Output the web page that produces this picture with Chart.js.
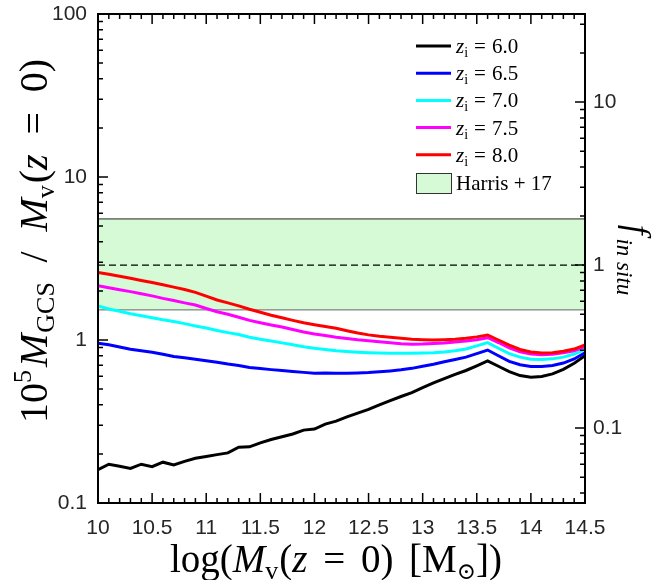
<!DOCTYPE html>
<html>
<head>
<meta charset="utf-8">
<script src="https://cdn.jsdelivr.net/npm/chart.js@4.4.1/dist/chart.umd.min.js"></script>
<style>
  html, body { margin: 0; padding: 0; background: #fff; }
  #wrap { width: 660px; height: 580px; }
</style>
</head>
<body>
<div id="wrap"><canvas id="gcs" width="660" height="580"></canvas></div>
<script>
// log(Mv(z=0)) grid
const logMv = [10.0, 10.1, 10.2, 10.3, 10.4, 10.5, 10.6, 10.7, 10.8, 10.9,
               11.0, 11.1, 11.2, 11.3, 11.4, 11.5, 11.6, 11.7, 11.8, 11.9,
               12.0, 12.1, 12.2, 12.3, 12.4, 12.5, 12.6, 12.7, 12.8, 12.9,
               13.0, 13.1, 13.2, 13.3, 13.4, 13.5, 13.6, 13.7, 13.8, 13.9,
               14.0, 14.1, 14.2, 14.3, 14.4, 14.5];

// 1e5 Mgcs / Mv, one series per z_i
const gcsZi60 = [0.160, 0.173, 0.168, 0.163, 0.173, 0.167, 0.178, 0.171, 0.180, 0.188,
                 0.193, 0.198, 0.203, 0.220, 0.221, 0.234, 0.245, 0.255, 0.265, 0.280,
                 0.284, 0.305, 0.318, 0.338, 0.356, 0.375, 0.400, 0.425, 0.450, 0.475,
                 0.510, 0.545, 0.580, 0.615, 0.650, 0.695, 0.745, 0.690, 0.640, 0.605,
                 0.590, 0.597, 0.620, 0.660, 0.720, 0.800];
const gcsZi65 = [0.955, 0.935, 0.905, 0.878, 0.858, 0.840, 0.818, 0.793, 0.778, 0.762,
                 0.745, 0.730, 0.712, 0.698, 0.678, 0.668, 0.658, 0.650, 0.641, 0.633,
                 0.625, 0.628, 0.625, 0.626, 0.628, 0.631, 0.638, 0.646, 0.656, 0.670,
                 0.690, 0.710, 0.735, 0.760, 0.785, 0.825, 0.868, 0.800, 0.740, 0.705,
                 0.688, 0.688, 0.698, 0.722, 0.765, 0.836];
const gcsZi70 = [1.62, 1.55, 1.50, 1.45, 1.41, 1.37, 1.33, 1.30, 1.26, 1.22,
                 1.185, 1.145, 1.11, 1.08, 1.04, 1.01, 0.985, 0.96, 0.935, 0.91,
                 0.89, 0.875, 0.86, 0.85, 0.842, 0.836, 0.832, 0.829, 0.829, 0.829,
                 0.832, 0.836, 0.845, 0.86, 0.88, 0.92, 0.963, 0.89, 0.825, 0.785,
                 0.762, 0.760, 0.766, 0.785, 0.82, 0.877];
const gcsZi75 = [2.15, 2.09, 2.035, 1.98, 1.92, 1.865, 1.80, 1.745, 1.69, 1.64,
                 1.56, 1.49, 1.44, 1.38, 1.32, 1.275, 1.235, 1.20, 1.16, 1.12,
                 1.09, 1.065, 1.04, 1.02, 1.003, 0.99, 0.975, 0.962, 0.95, 0.943,
                 0.945, 0.952, 0.96, 0.972, 0.985, 1.005, 1.033, 0.965, 0.895, 0.845,
                 0.82, 0.812, 0.818, 0.835, 0.86, 0.91];
const gcsZi80 = [2.60, 2.53, 2.46, 2.39, 2.32, 2.25, 2.18, 2.11, 2.04, 1.96,
                 1.86, 1.76, 1.69, 1.62, 1.545, 1.48, 1.42, 1.37, 1.32, 1.275,
                 1.24, 1.21, 1.18, 1.14, 1.105, 1.075, 1.055, 1.04, 1.025, 1.012,
                 1.005, 1.0, 1.005, 1.012, 1.025, 1.045, 1.073, 1.00, 0.93, 0.875,
                 0.845, 0.832, 0.836, 0.852, 0.88, 0.932];

const ziLabels = ['6.0', '6.5', '7.0', '7.5', '8.0'];
const ziColors = ['#000000', '#0000ff', '#00ffff', '#ff00ff', '#ff0000'];

// Harris+17 band (low / mean / high)
const harrisX = [10, 14.5];
const harrisLow = [1.53, 1.53];
const harrisMid = [2.88, 2.88];
const harrisHigh = [5.53, 5.53];
const harrisFill = '#d6f9d6';

// f_in situ = 1 where the mean Harris value sits
const fNorm = 2.88;

const xTicks = [10, 10.5, 11, 11.5, 12, 12.5, 13, 13.5, 14, 14.5];
const xTickLabels = ['10', '10.5', '11', '11.5', '12', '12.5', '13', '13.5', '14', '14.5'];
const yTicks = [0.1, 1, 10, 100];
const yTickLabels = ['0.1', '1', '10', '100'];
const fTicks = [0.1, 1, 10];
const fTickLabels = ['0.1', '1', '10'];

const tickFont = { family: '"Liberation Sans", Arial, sans-serif', size: 21 };
const serif = '"Liberation Serif", "DejaVu Serif", serif';

function pairs(xs, ys) { return xs.map((x, i) => ({ x: x, y: ys[i] })); }

function findTick(vals, v) {
  return vals.findIndex(t => Math.abs(t - v) < Math.abs(t) * 1e-6 + 1e-9);
}

function logAll(min, max) {
  const out = [];
  for (let e = -3; e <= 3; e++) {
    for (let k = 1; k <= 9; k++) {
      const v = +(k * Math.pow(10, e)).toPrecision(6);
      if (v >= min * 0.9999 && v <= max * 1.0001) out.push(v);
    }
  }
  return out;
}

function linAll(min, max, step) {
  const out = [];
  const n = Math.round((max - min) / step);
  for (let i = 0; i <= n; i++) out.push(+(min + i * step).toFixed(2));
  return out;
}

// text pieces with sub/superscripts, centred on (x, y); extra room to reach
// `target` width goes after the pieces flagged with s
function richText(ctx, parts, x, y, angle, target) {
  ctx.save();
  let w = 0, n = 0;
  parts.forEach(p => {
    ctx.font = p.f;
    p.w = ctx.measureText(p.t).width;
    w += p.w + (p.gap || 0);
    if (p.s) n++;
  });
  const sp = target && n ? Math.max(0, (target - w) / n) : 0;
  ctx.translate(x, y);
  ctx.rotate(angle);
  ctx.fillStyle = '#000';
  ctx.textBaseline = 'alphabetic';
  ctx.textAlign = 'left';
  let cx = -(w + sp * n) / 2;
  parts.forEach(p => {
    ctx.font = p.f;
    ctx.fillText(p.t, cx, p.dy || 0);
    cx += p.w + (p.gap || 0) + (p.s ? sp : 0);
  });
  ctx.restore();
}

const rm = s => s + 'px ' + serif;
const it = s => 'italic ' + s + 'px ' + serif;

const frameTicks = {
  id: 'frameTicks',
  afterDatasetsDraw(chart) {
    const { ctx, chartArea: a, scales } = chart;
    ctx.save();
    ctx.strokeStyle = '#000';
    ctx.lineWidth = 1.5;
    ctx.beginPath();
    scales.x.ticks.forEach(t => {
      const p = scales.x.getPixelForValue(t.value);
      const len = findTick(xTicks, t.value) >= 0 ? 10 : 5;
      ctx.moveTo(p, a.bottom); ctx.lineTo(p, a.bottom - len);
      ctx.moveTo(p, a.top); ctx.lineTo(p, a.top + len);
    });
    scales.y.ticks.forEach(t => {
      const p = scales.y.getPixelForValue(t.value);
      const len = findTick(yTicks, t.value) >= 0 ? 10 : 5;
      ctx.moveTo(a.left, p); ctx.lineTo(a.left + len, p);
    });
    scales.y2.ticks.forEach(t => {
      const p = scales.y2.getPixelForValue(t.value);
      const len = findTick(fTicks, t.value) >= 0 ? 10 : 5;
      ctx.moveTo(a.right, p); ctx.lineTo(a.right - len, p);
    });
    ctx.stroke();
    ctx.lineWidth = 2;
    ctx.strokeRect(a.left, a.top, a.right - a.left, a.bottom - a.top);
    ctx.restore();
  }
};

const labelsAndKey = {
  id: 'labelsAndKey',
  afterDraw(chart) {
    const { ctx, chartArea: a } = chart;

    // x title
    richText(ctx, [
      { t: 'log(', f: rm(39) },
      { t: 'M', f: it(39) },
      { t: 'v', f: rm(26), dy: 7, gap: 1 },
      { t: '(', f: rm(39) },
      { t: 'z', f: it(39), s: 1 },
      { t: '=', f: rm(39), s: 1 },
      { t: '0)', f: rm(39), s: 1 },
      { t: '[M', f: rm(39) },
      { t: '\u2299', f: rm(23), dy: 7 },
      { t: '])', f: rm(39) }
    ], 336, 572, 0, 332);

    // left y title
    richText(ctx, [
      { t: '10', f: rm(40) },
      { t: '5', f: rm(26), dy: -16, gap: 3 },
      { t: 'M', f: it(40), gap: 1 },
      { t: 'GCS', f: rm(26), dy: 7, s: 1 },
      { t: '/', f: rm(40), s: 1 },
      { t: 'M', f: it(40) },
      { t: 'v', f: rm(26), dy: 7, gap: 2 },
      { t: '(', f: rm(40) },
      { t: 'z', f: it(40), s: 1 },
      { t: '=', f: rm(40), s: 1 },
      { t: '0)', f: rm(40) }
    ], 47, 241, -Math.PI / 2, 364);

    // right y title
    richText(ctx, [
      { t: 'f', f: it(35), gap: 4 },
      { t: 'in situ', f: it(23), dy: 9 }
    ], 626, 260, Math.PI / 2);

    // key
    const lx = a.right - 169;
    ctx.save();
    chart.data.datasets.filter(d => d.key).forEach((d, i) => {
      const cy = a.top + 32 + i * 27.2;
      ctx.strokeStyle = d.borderColor;
      ctx.lineWidth = 3;
      ctx.beginPath();
      ctx.moveTo(lx, cy); ctx.lineTo(lx + 35, cy);
      ctx.stroke();
      ctx.fillStyle = '#000';
      ctx.textBaseline = 'alphabetic';
      ctx.font = it(21);
      ctx.fillText('z', lx + 40, cy + 7);
      let tx = lx + 40 + ctx.measureText('z').width;
      ctx.font = rm(14);
      ctx.fillText('i', tx, cy + 11);
      tx += ctx.measureText('i').width + 6;
      ctx.font = rm(21);
      ctx.fillText('=', tx, cy + 7);
      tx += ctx.measureText('=').width + 6;
      ctx.fillText(ziLabels[i], tx, cy + 7);
    });
    const by = a.top + 159;
    ctx.fillStyle = harrisFill;
    ctx.fillRect(lx, by, 35, 20);
    ctx.strokeStyle = '#333';
    ctx.lineWidth = 1;
    ctx.strokeRect(lx + 0.5, by + 0.5, 35, 20);
    ctx.fillStyle = '#000';
    ctx.font = rm(21);
    ctx.fillText('Harris + 17', lx + 40, by + 17);
    ctx.restore();
  }
};

const series = [gcsZi60, gcsZi65, gcsZi70, gcsZi75, gcsZi80];
const datasets = series.map((s, i) => ({
  label: 'z_i = ' + ziLabels[i],
  key: true,
  data: pairs(logMv, s),
  borderColor: ziColors[i],
  borderWidth: 3,
  pointRadius: 0,
  tension: 0,
  fill: false,
  order: 5 - i,
  yAxisID: 'y'
}));

datasets.push(
  { label: 'Harris+17 high', data: pairs(harrisX, harrisHigh), borderColor: '#222', borderWidth: 1,
    backgroundColor: harrisFill, fill: '+1', pointRadius: 0, order: 12, yAxisID: 'y' },
  { label: 'Harris+17 low', data: pairs(harrisX, harrisLow), borderColor: '#666', borderWidth: 1,
    pointRadius: 0, fill: false, order: 11, yAxisID: 'y' },
  { label: 'Harris+17 mean', data: pairs(harrisX, harrisMid), borderColor: '#000', borderWidth: 1.3,
    borderDash: [7, 4], pointRadius: 0, fill: false, order: 10, yAxisID: 'y' }
);

const tickStyle = { font: tickFont, color: '#262626', autoSkip: false, maxRotation: 0 };

// keep the plot box where the figure has it; labels may overhang
const fitBox = size => s => {
  if (s.isHorizontal()) { s.height = size; s.paddingLeft = 0; s.paddingRight = 0; }
  else { s.width = size; s.paddingTop = 0; s.paddingBottom = 0; }
};

new Chart(document.getElementById('gcs'), {
  type: 'line',
  data: { datasets: datasets },
  options: {
    responsive: false,
    animation: false,
    layout: { padding: { top: 14, left: 0, right: 0, bottom: 0 } },
    plugins: { legend: { display: false }, tooltip: { enabled: false } },
    scales: {
      x: {
        type: 'linear', min: 10, max: 14.5,
        afterBuildTicks: s => { s.ticks = linAll(10, 14.5, 0.1).map(v => ({ value: v })); },
        afterFit: fitBox(77),
        grid: { display: false, drawTicks: false },
        border: { display: false },
        ticks: Object.assign({}, tickStyle, { padding: 13,
          callback: v => { const i = findTick(xTicks, v); return i >= 0 ? xTickLabels[i] : ''; } })
      },
      y: {
        type: 'logarithmic', position: 'left', min: 0.1, max: 100,
        afterBuildTicks: s => { s.ticks = logAll(0.1, 100).map(v => ({ value: v })); },
        afterFit: fitBox(98),
        grid: { display: false, drawTicks: false },
        border: { display: false },
        ticks: Object.assign({}, tickStyle, { padding: 11,
          callback: v => { const i = findTick(yTicks, v); return i >= 0 ? yTickLabels[i] : ''; } })
      },
      y2: {
        type: 'logarithmic', position: 'right', min: 0.1 / fNorm, max: 100 / fNorm,
        afterBuildTicks: s => { s.ticks = logAll(0.1 / fNorm, 100 / fNorm).map(v => ({ value: v })); },
        afterFit: fitBox(75),
        grid: { display: false, drawTicks: false },
        border: { display: false },
        ticks: Object.assign({}, tickStyle, { padding: 8,
          callback: v => { const i = findTick(fTicks, v); return i >= 0 ? fTickLabels[i] : ''; } })
      }
    }
  },
  plugins: [frameTicks, labelsAndKey]
});
</script>
</body>
</html>
